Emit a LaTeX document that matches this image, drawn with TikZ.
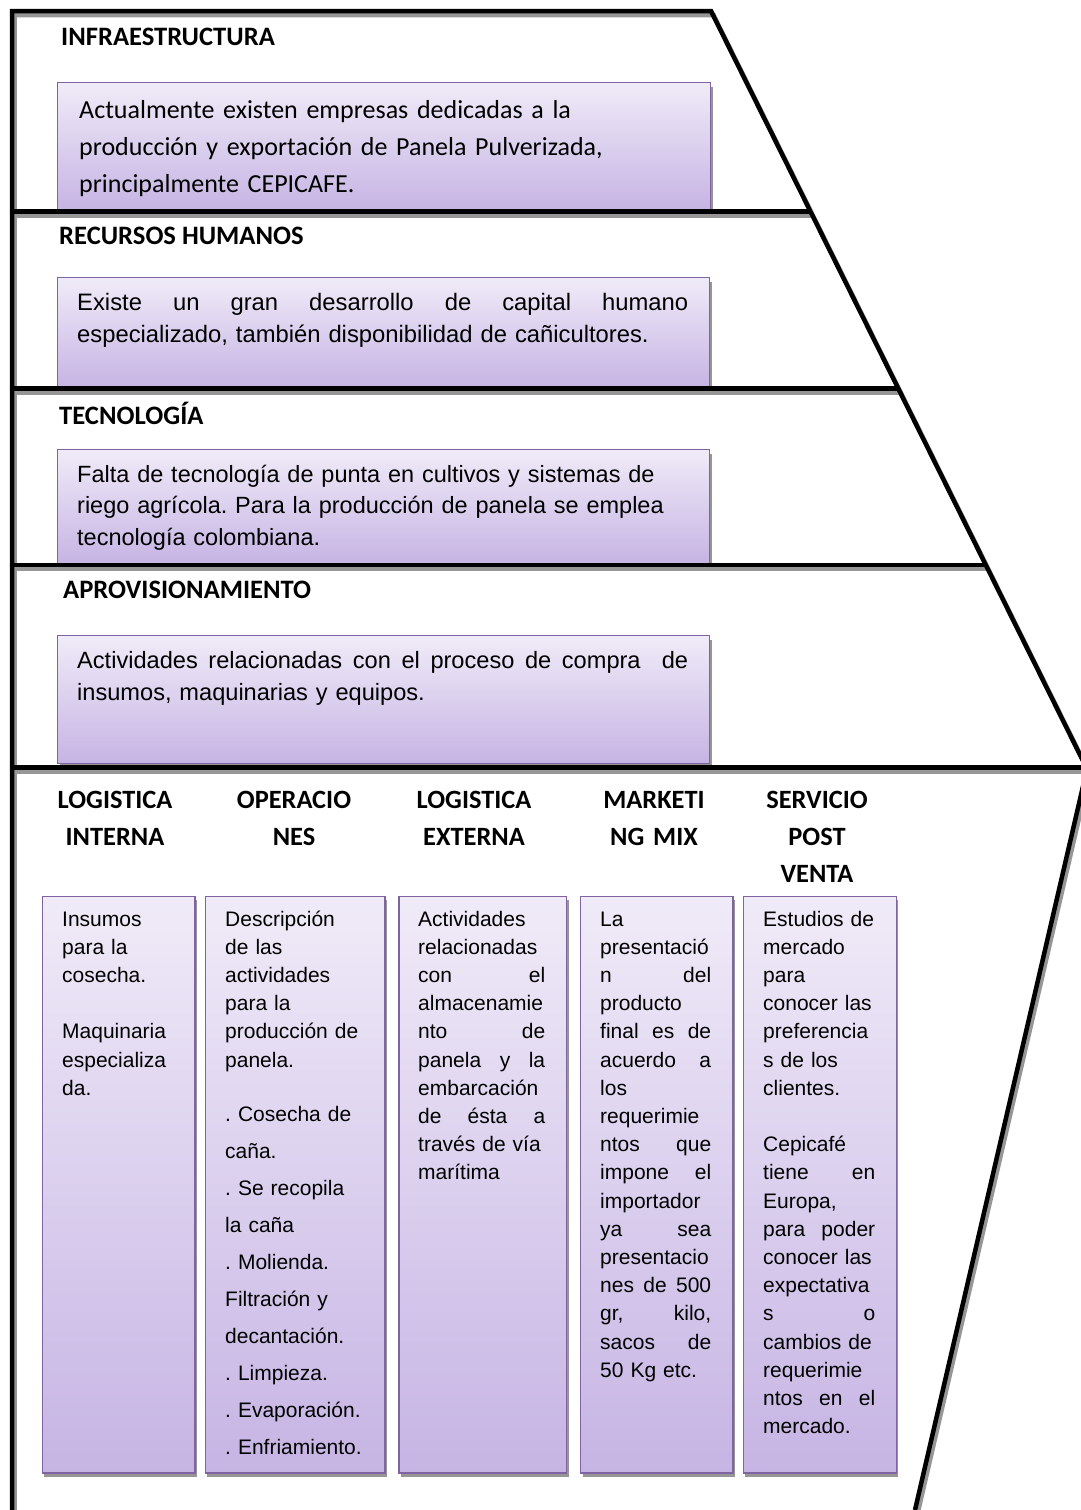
\documentclass[tikz,border=0pt]{standalone}
\usepackage{fontspec}
\setmainfont{Liberation Sans}
\newfontfamily\calfont{Carlito}
\usetikzlibrary{shadows}
\definecolor{boxtop}{RGB}{240,235,248}
\definecolor{boxbot}{RGB}{198,180,228}
\definecolor{boxborder}{RGB}{128,100,162}
\definecolor{shadowgray}{RGB}{150,150,150}
\begin{document}
\frenchspacing
\begin{tikzpicture}[x=1pt,y=-1pt,
  outline/.style={line width=4.5pt,black,line join=miter},
  shadowline/.style={line width=4.5pt,shadowgray,line join=miter},
  pbox/.style={draw=boxborder,line width=1.4pt,top color=boxtop,bottom color=boxbot,
     anchor=north west,inner sep=0pt,
     drop shadow={shadow xshift=2pt,shadow yshift=-4pt,fill=shadowgray,opacity=1}},
  hdr/.style={font=\calfont\bfseries\fontsize{26.6}{37}\selectfont,inner sep=0pt,anchor=base west},
  colhdr/.style={font=\calfont\bfseries\fontsize{26.4}{37}\selectfont,inner sep=0pt,anchor=base,align=center,text width=170pt},
  bigtext/.style={font=\fontsize{23.8}{32}\selectfont,inner sep=0pt,anchor=base west,align=left},
  caltext/.style={font=\calfont\fontsize{26}{37}\selectfont,inner sep=0pt,anchor=base west,align=left},
  coltext/.style={font=\fontsize{21}{28.2}\selectfont,inner sep=0pt,anchor=base west,align=left}]
\useasboundingbox (0,0) rectangle (1080,1510);
\fill[white] (0,0) rectangle (1080,1510);

% shadows of the outline
\begin{scope}[shift={(2.5,4)}]
\draw[shadowline] (12,1510) -- (12,11) -- (711,11) -- (1087,769) -- (915,1510);
\draw[shadowline] (12,211.5) -- (810,211.5);
\draw[shadowline] (12,388.3) -- (898,388.3);
\draw[shadowline] (12,565) -- (986,565);
\draw[shadowline] (12,767.7) -- (1087,767.7);
\end{scope}

% boxes
\node[pbox,minimum width=653pt,minimum height=127pt] (b1) at (57,82) {};
\node[pbox,minimum width=652pt,minimum height=110pt] (b2) at (57,277) {};
\node[pbox,minimum width=652pt,minimum height=114pt] (b3) at (57,449) {};
\node[pbox,minimum width=652pt,minimum height=128pt] (b4) at (57,635) {};

\node[pbox,minimum width=152.6pt,minimum height=576.6pt] (c1) at (41.7,895.7) {};
\node[pbox,minimum width=179.6pt,minimum height=576.6pt] (c2) at (204.7,895.7) {};
\node[pbox,minimum width=167.7pt,minimum height=576.6pt] (c3) at (398.3,895.7) {};
\node[pbox,minimum width=152.3pt,minimum height=576.6pt] (c4) at (580,895.7) {};
\node[pbox,minimum width=153pt,minimum height=576.6pt] (c5) at (742.7,895.7) {};

% outline
\draw[outline] (12,1510) -- (12,11) -- (711,11) -- (1087,769) -- (915,1510);
\draw[outline] (12,211.5) -- (810,211.5);
\draw[outline] (12,388.3) -- (898,388.3);
\draw[outline] (12,565) -- (986,565);
\draw[outline] (12,767.7) -- (1087,767.7);

% headers
\node[hdr] (h1) at (61,45) {INFRAESTRUCTURA};
\node[hdr] (h2) at (59,244) {RECURSOS HUMANOS};
\node[hdr] (h3) at (59,424) {TECNOLOGÍA};
\node[hdr] (h4) at (63,598) {APROVISIONAMIENTO};

% top texts
\node[caltext,text width=620pt] (t1) at (79,118)
  {Actualmente existen empresas dedicadas a la\\producción y exportación de Panela Pulverizada,\\principalmente CEPICAFE.};
\node[bigtext,text width=611pt] (t2) at (77,310)
  {Existe\hfill un\hfill gran\hfill desarrollo\hfill de\hfill capital\hfill humano\\especializado, también disponibilidad de cañicultores.};
\node[bigtext,text width=620pt,font=\fontsize{23.5}{31.5}\selectfont] (t3) at (77,482)
  {Falta de tecnología de punta en cultivos y sistemas de\\riego agrícola. Para la producción de panela se emplea\\tecnología colombiana.};
\node[bigtext,text width=611pt,font=\fontsize{23.6}{32}\selectfont] (t4) at (77,668)
  {Actividades\hfill relacionadas\hfill con\hfill el\hfill proceso\hfill de\hfill compra\hfill\hfill de\\insumos, maquinarias y equipos.};

% column headers
\node[colhdr] (k1) at (115,808) {LOGISTICA\\INTERNA};
\node[colhdr] (k2) at (294,808) {OPERACIO\\NES};
\node[colhdr] (k3) at (474,808) {LOGISTICA\\EXTERNA};
\node[colhdr] (k4) at (654,808) {MARKETI\\NG MIX};
\node[colhdr] (k5) at (817,808) {SERVICIO\\POST\\VENTA};

% column texts
\node[coltext,text width=113pt] (x1) at (62,926)
  {Insumos\\para la\\cosecha.\\[28.2pt]Maquinaria\\especializa\\da.};
\node[coltext,text width=150pt] (x2) at (225,926)
  {Descripción\\de las\\actividades\\para la\\producción de\\panela.};
\node[coltext,text width=150pt,font=\fontsize{21}{37}\selectfont] (x2b) at (225,1121)
  {. Cosecha de\\caña.\\. Se recopila\\la caña\\. Molienda.\\Filtración y\\decantación.\\. Limpieza.\\. Evaporación.\\. Enfriamiento.};
\node[coltext,text width=127pt] (x3) at (418,926)
  {Actividades\\relacionadas\\con\hfill el\\almacenamie\\nto\hfill de\\panela\hfill y\hfill la\\embarcación\\de\hfill ésta\hfill a\\través de vía\\marítima};
\node[coltext,text width=111pt] (x4) at (600,926)
  {La\\presentació\\n\hfill del\\producto\\final\hfill es\hfill de\\acuerdo\hfill a\\los\\requerimie\\ntos\hfill que\\impone\hfill el\\importador\\ya\hfill sea\\presentacio\\nes\hfill de\hfill 500\\gr,\hfill kilo,\\sacos\hfill de\\50 Kg etc.};
\node[coltext,text width=112pt] (x5) at (763,926)
  {Estudios de\\mercado\\para\\conocer las\\preferencia\\s de los\\clientes.\\[28.2pt]Cepicafé\\tiene\hfill en\\Europa,\\para\hfill poder\\conocer las\\expectativa\\s\hfill o\\cambios de\\requerimie\\ntos\hfill en\hfill el\\mercado.};
\end{tikzpicture}
\end{document}
